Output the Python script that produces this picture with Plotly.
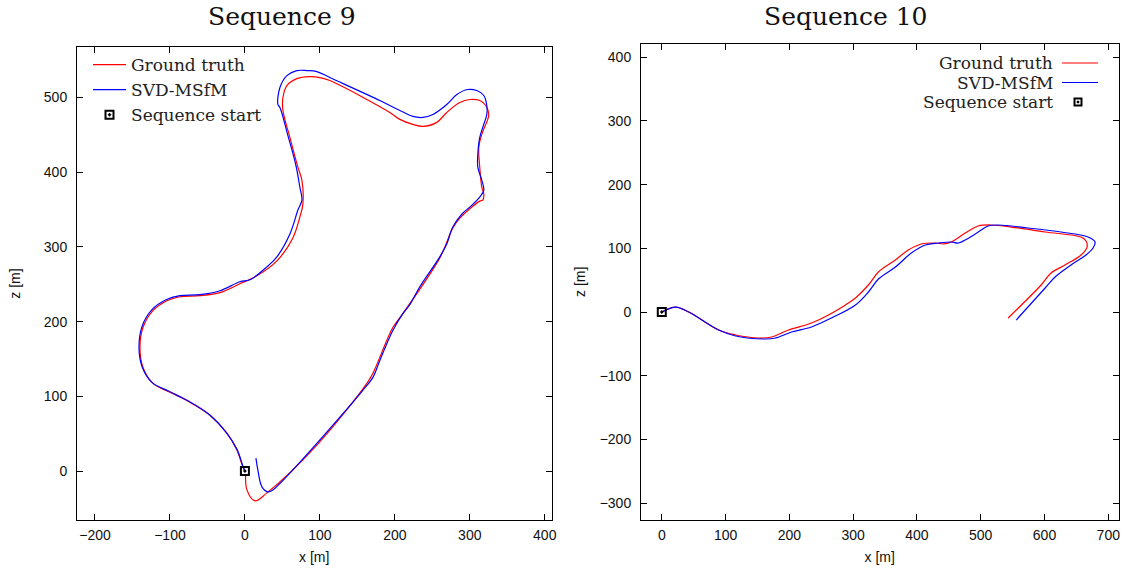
import plotly.graph_objects as go

# ---------------- Sequence 9 ----------------
s9_gt_x = [0, -2.7, -10.7, -24, -46.7, -73.3, -100, -122.7, -136, -140, -136, -122.7, -104, -86.7,
           -60, -33.3, -6.7, 16, 42.7, 64, 73.3, 77.3, 76, 70.7, 60, 50.7, 50.7, 56, 69.3, 86.7, 100,
           113.3, 193.3, 206.7, 224, 237.3, 256, 269.3, 286.7, 300, 313.3, 321.3, 325.3, 324, 316,
           312, 313.3, 316, 318.7, 317.3, 313.3, 286.7, 277.3, 260, 210.7, 197.3, 170.7, 162.7, 96,
           29.3, 13.3, 2.7, 1]
s9_gt_z = [0, 5.3, 28, 50.7, 74.7, 92, 105.3, 117.3, 138.7, 165.3, 192, 214.7, 228, 233.3,
           234.7, 238.7, 250.7, 261.3, 281.3, 312, 340, 357.3, 389.3, 406.7, 446.7, 482.7, 500, 516,
           525.3, 528, 526.7, 522.7, 480, 470.7, 464, 461.3, 466.7, 480, 493.3, 497.3, 496, 489.3,
           477.3, 470.7, 450.7, 433.3, 406.7, 380, 370.7, 362.7, 361.3, 338.7, 325.3, 285.3, 210.7,
           192, 130.7, 117.3, 34.7, -29.3, -40, -25.3, -5]

s9_est_x = [0, -2.7, -10.7, -25.3, -48, -74.7, -101.3, -124, -137.3, -141.3, -137.3, -124, -105.3,
            -86.7, -60, -33.3, -6.7, 6.7, 29.3, 42.7, 60, 70.7, 76, 73.3, 68, 57.3, 46.7, 44, 46.7,
            56, 69.3, 82.7, 96, 113.3, 180, 193.3, 206.7, 224, 237.3, 250.7, 269.3, 282.7, 297.3,
            309.3, 318.7, 322.7, 322.7, 317.3, 313.3, 310.7, 310.7, 316, 318.7, 313.3, 300, 289.3,
            277.3, 269.3, 260, 233.3, 220, 210.7, 197.3, 180, 170.7, 157.3, 126.7, 37.3, 30.7, 22.7,
            17.3, 14.7]
s9_est_z = [0, 6.7, 29.3, 52, 76, 93.3, 106.7, 118.7, 140, 165.3, 193.3, 216, 229.3,
            234.7, 236, 241.3, 253.3, 256, 273.3, 286.7, 317.3, 349.3, 362.7, 380, 409.3, 449.3, 486.7,
            490.7, 513.3, 529.3, 536, 536, 534.7, 526.7, 496, 489.3, 482.7, 474.7, 473.3, 477.3, 490.7,
            504, 510.7, 509.3, 502.7, 489.3, 477.3, 460, 446.7, 424, 406.7, 389.3, 376, 366.7, 353.3,
            344, 326.7, 304, 286.7, 246.7, 222.7, 210.7, 188, 148, 125.3, 108, 72, -25.3, -28, -21.3,
            1.3, 17.3]

# ---------------- Sequence 10 ----------------
s10_gt_x = [0, 21.9, 42.3, 89.2, 115.8, 151.8, 172.1, 198.7, 234.7, 261.3, 288, 303.6, 323.9, 339.6,
            366.2, 386.5, 406.9, 428.8, 441.3, 453.8, 475.7, 496.1, 516.4, 547.7, 600.9, 657.3, 665.1,
            666.7, 657.3, 632.2, 610.3, 594.7, 543]
s10_gt_z = [0, 7.8, 0, -28.3, -36.1, -40.8, -39.2, -28.3, -17.3, -4.7, 11, 22, 42.4, 62.8,
            81.6, 97.3, 106.8, 108.3, 106.8, 109.9, 124, 135, 136.6, 133.4, 125.6, 117.7, 111.5,
            102, 89.5, 73.8, 61.2, 42.4, -9.4]

s10_est_x = [0, 21.9, 42.3, 89.2, 115.8, 162.8, 178.4, 203.4, 234.7, 266, 303.6, 323.9, 339.6, 366.2,
             391.2, 413.1, 433.5, 453.8, 464.8, 475.7, 496.1, 511.7, 527.4, 574.3, 626, 668.2, 679.2,
             676.1, 665.1, 641.6, 616.6, 601, 555.6]
s10_est_z = [0, 7.8, 0, -28.3, -37.7, -42.4, -40.8, -31.4, -23.5, -9.4, 11, 31.4, 51.8, 70.6,
             92.6, 105.2, 108.3, 109.9, 108.3, 113, 125.6, 135, 136.6, 131.9, 125.6, 117.7, 109.9,
             100.5, 89.5, 73.8, 54.9, 37.7, -12.6]

start_x = [0]
start_z = [0]

series_names = ["Ground truth", "SVD-MSfM", "Sequence start"]
titles = ["Sequence 9", "Sequence 10"]

s9_xticks = [-200, -100, 0, 100, 200, 300, 400]
s9_zticks = [0, 100, 200, 300, 400, 500]
s10_xticks = [0, 100, 200, 300, 400, 500, 600, 700]
s10_zticks = [-300, -200, -100, 0, 100, 200, 300, 400]

RED = "#ff0000"
BLUE = "#0000ff"
SERIF = "DejaVu Serif"
SANS = "Liberation Sans"
W, H = 1125, 572


def fx(px):
    return px / W


def fy(py):
    return (H - py) / H


fig = go.Figure()

line_kw = dict(mode="lines", line_shape="spline", line_smoothing=1.0)
start_marker = dict(symbol="square-open-dot", size=8, color="black", line=dict(width=2, color="black"))

# Seq 9 (native legend)
fig.add_trace(go.Scatter(x=s9_gt_x, y=s9_gt_z, name=series_names[0], line=dict(color=RED, width=1.2),
                         xaxis="x", yaxis="y", legend="legend", **line_kw))
fig.add_trace(go.Scatter(x=s9_est_x, y=s9_est_z, name=series_names[1], line=dict(color=BLUE, width=1.2),
                         xaxis="x", yaxis="y", legend="legend", **line_kw))
fig.add_trace(go.Scatter(x=start_x, y=start_z, name=series_names[2], mode="markers", marker=start_marker,
                         xaxis="x", yaxis="y", legend="legend"))

# Seq 10
fig.add_trace(go.Scatter(x=s10_gt_x, y=s10_gt_z, name=series_names[0], line=dict(color=RED, width=1.2),
                         xaxis="x2", yaxis="y2", showlegend=False, **line_kw))
fig.add_trace(go.Scatter(x=s10_est_x, y=s10_est_z, name=series_names[1], line=dict(color=BLUE, width=1.2),
                         xaxis="x2", yaxis="y2", showlegend=False, **line_kw))
fig.add_trace(go.Scatter(x=start_x, y=start_z, name=series_names[2], mode="markers", marker=start_marker,
                         xaxis="x2", yaxis="y2", showlegend=False))


def ax(domain, rng, ticks, title, standoff, anchor, lab_off):
    return dict(domain=domain, range=rng, tickvals=ticks, ticks="inside", ticklen=6, tickwidth=1,
                tickcolor="black", showline=True, linecolor="black", linewidth=1, mirror="allticks",
                showgrid=False, zeroline=False, automargin=False, anchor=anchor, ticklabelstandoff=lab_off,
                tickfont=dict(family=SANS, size=14, color="#111"),
                title=dict(text=title, font=dict(family=SANS, size=14, color="#111"), standoff=standoff))


fig.update_layout(
    width=W, height=H,
    margin=dict(l=0, r=0, t=0, b=0),
    paper_bgcolor="white", plot_bgcolor="white",
    xaxis=ax([fx(77), fx(551.5)], [-224, 409], s9_xticks, "x [m]", 10, "y", 2),
    yaxis=ax([fy(520), fy(47)], [-65.6, 567.6], s9_zticks, "z [m]", 19, "x", 6),
    xaxis2=ax([fx(641), fx(1118.5)], [-32.6, 716], s10_xticks, "x [m]", 10, "y2", 2),
    yaxis2=ax([fy(520), fy(43.5)], [-326.5, 421.5], s10_zticks, "z [m]", 10, "x2", 6),
    legend=dict(x=fx(88), y=fy(47), xanchor="left", yanchor="top", bgcolor="rgba(0,0,0,0)",
                font=dict(family=SERIF, size=17, color="#222"), tracegroupgap=0, itemwidth=33),
    showlegend=True,
)

# Titles
for t, cx in zip(titles, [282, 845]):
    fig.add_annotation(text=t, x=fx(cx), y=fy(17), xref="paper", yref="paper", showarrow=False,
                       font=dict(family=SERIF, size=25, color="#111"), xanchor="center", yanchor="middle")

# Right-hand key (samples to the right of the labels) for Sequence 10
rows_y = [63, 82.5, 102]
for name, yy in zip(series_names, rows_y):
    fig.add_annotation(text=name, x=fx(1055), y=fy(yy), xref="paper", yref="paper", showarrow=False,
                       xanchor="right", yanchor="middle", font=dict(family=SERIF, size=17, color="#222"))
for col, yy in zip([RED, BLUE], rows_y[:2]):
    fig.add_shape(type="line", xref="paper", yref="paper", x0=fx(1062), x1=fx(1098),
                  y0=fy(yy), y1=fy(yy), line=dict(color=col, width=1.2))
# key symbol for "Sequence start": open square with a centre dot
kx, ky = 1078, rows_y[2]
fig.add_shape(type="rect", xref="paper", yref="paper", x0=fx(kx - 3.5), x1=fx(kx + 3.5),
              y0=fy(ky + 3.5), y1=fy(ky - 3.5), line=dict(color="black", width=2), fillcolor="white")
fig.add_shape(type="rect", xref="paper", yref="paper", x0=fx(kx - 1), x1=fx(kx + 1),
              y0=fy(ky + 1), y1=fy(ky - 1), line=dict(color="black", width=0.5), fillcolor="black")

fig.write_html("out.html", config={"displayModeBar": False},
               post_script="document.body.style.margin='0';document.body.style.overflow='hidden';")
